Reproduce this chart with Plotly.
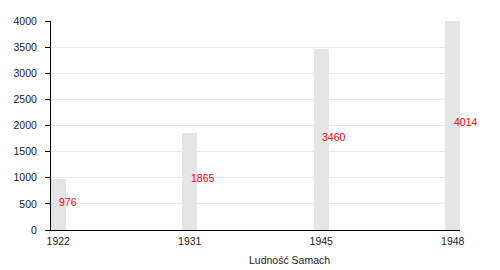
import plotly.graph_objects as go

years = ["1922", "1931", "1945", "1948"]
population = [976, 1865, 3460, 4014]
y_ticks = [0, 500, 1000, 1500, 2000, 2500, 3000, 3500, 4000]
x_title = "Ludność Samach"

FONT = "Liberation Sans, Arial, sans-serif"

fig = go.Figure()
fig.add_trace(go.Bar(
    x=years, y=population, width=0.115,
    marker=dict(color="#e5e5e5", line=dict(width=0)),
    hoverinfo="skip",
))

for i, v in enumerate(population):
    fig.add_annotation(
        x=i, y=v / 2, text=str(v), showarrow=False,
        xanchor="left", yanchor="middle", xshift=-1, yshift=3,
        font=dict(family=FONT, size=10.5, color="#ff0000"),
    )

fig.add_annotation(
    x=0.584, y=0, xref="paper", yref="paper", yanchor="top",
    yshift=-22, text=x_title, showarrow=False,
    font=dict(family=FONT, size=10.5, color="#222222"),
)

fig.update_layout(
    width=500, height=270,
    margin=dict(l=51, r=40, t=21, b=40),
    paper_bgcolor="white", plot_bgcolor="white",
    showlegend=False,
    font=dict(family=FONT, size=10.5, color="#222222"),
    bargap=0,
)
fig.update_xaxes(
    type="category", range=[-0.055, 3.055],
    showline=True, linecolor="black", linewidth=1,
    ticks="", showgrid=False, ticklabelstandoff=1,
)
fig.update_yaxes(
    range=[0, 4000], tickvals=y_ticks,
    showline=True, linecolor="black", linewidth=1,
    ticks="outside", ticklen=5, tickcolor="black",
    gridcolor="#e8e8e8", gridwidth=1, zeroline=False,
    ticklabelstandoff=6,
)

fig.write_html("out.html")
